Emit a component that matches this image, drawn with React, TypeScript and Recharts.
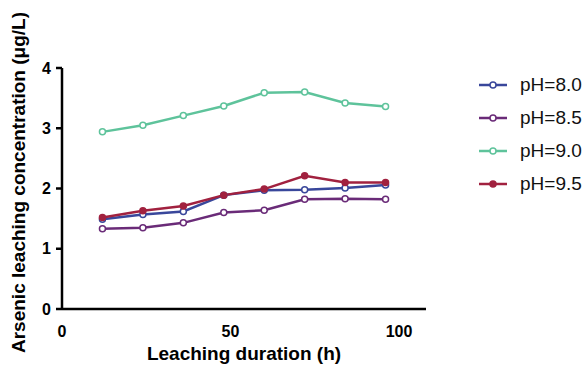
import React from 'react';
import { LineChart, Line, XAxis, YAxis } from 'recharts';

const hours = [12, 24, 36, 48, 60, 72, 84, 96];
const ph80 = [1.49, 1.57, 1.62, 1.89, 1.97, 1.98, 2.01, 2.06];
const ph85 = [1.33, 1.35, 1.43, 1.6, 1.64, 1.82, 1.83, 1.82];
const ph90 = [2.94, 3.05, 3.21, 3.37, 3.59, 3.6, 3.42, 3.36];
const ph95 = [1.52, 1.63, 1.71, 1.89, 1.99, 2.21, 2.1, 2.1];

const xTicks = [0, 50, 100];
const yTicks = [0, 1, 2, 3, 4];

const series = [
  { key: 'ph80', name: 'pH=8.0', color: '#39479b', filled: false },
  { key: 'ph85', name: 'pH=8.5', color: '#6a2b78', filled: false },
  { key: 'ph90', name: 'pH=9.0', color: '#5ec39b', filled: false },
  { key: 'ph95', name: 'pH=9.5', color: '#a1213f', filled: true },
];

const data = hours.map((h, i) => ({
  h,
  ph80: ph80[i],
  ph85: ph85[i],
  ph90: ph90[i],
  ph95: ph95[i],
}));

const font = 'Liberation Sans, Arial, sans-serif';

// legend drawn beside the chart so it doesn't shrink the plot area
const LegendBox = () => (
  <div style={{ position: 'absolute', left: 478, top: 68, fontFamily: font, fontSize: 19, color: '#111' }}>
    {series.map(s => (
      <div key={s.key} style={{ display: 'flex', alignItems: 'center', height: 33 }}>
        <svg width={30} height={12} style={{ marginRight: 12 }}>
          <line x1={1} y1={6} x2={29} y2={6} stroke={s.color} strokeWidth={2.5} />
          <circle cx={15} cy={6} r={3} fill={s.filled ? s.color : '#fff'} stroke={s.color} strokeWidth={1.5} />
        </svg>
        <span>{s.name}</span>
      </div>
    ))}
  </div>
);

export default function App() {
  return (
    <div style={{ position: 'absolute', left: 0, top: 0, width: 587, height: 365 }}>
      <LineChart width={587} height={365} data={data} margin={{ top: 68, right: 161, left: 0, bottom: 0 }}>
        <XAxis
          dataKey="h"
          type="number"
          domain={[0, 108]}
          ticks={xTicks}
          tickLine={false}
          tickSize={15}
          tickMargin={2}
          height={56}
          axisLine={{ stroke: '#000', strokeWidth: 2.5 }}
          tick={{ fill: '#000', fontSize: 16, fontWeight: 'bold', fontFamily: font }}
          label={({ viewBox }: any) => (
            <text
              x={viewBox.x + viewBox.width / 2}
              y={360}
              textAnchor="middle"
              fontSize={19}
              fontWeight="bold"
              fontFamily={font}
              fill="#000"
            >
              Leaching duration (h)
            </text>
          )}
        />
        <YAxis
          type="number"
          domain={[0, 4]}
          ticks={yTicks}
          width={62}
          tickSize={6}
          tickMargin={5}
          axisLine={{ stroke: '#000', strokeWidth: 2.5 }}
          tickLine={{ stroke: '#000', strokeWidth: 2.5 }}
          tick={{ fill: '#000', fontSize: 16, fontWeight: 'bold', fontFamily: font }}
          label={({ viewBox }: any) => (
            <text
              x={0}
              y={0}
              transform={`translate(25, ${viewBox.y + viewBox.height / 2 - 6}) rotate(-90)`}
              textAnchor="middle"
              fontSize={19}
              fontWeight="bold"
              fontFamily={font}
              fill="#000"
            >
              Arsenic leaching concentration (μg/L)
            </text>
          )}
        />
        {series.map(s => (
          <Line
            key={s.key}
            dataKey={s.key}
            name={s.name}
            stroke={s.color}
            strokeWidth={2.5}
            dot={{ r: 3, fill: s.filled ? s.color : '#fff', stroke: s.color, strokeWidth: 1.5 }}
            activeDot={false}
            isAnimationActive={false}
          />
        ))}
      </LineChart>
      <LegendBox />
    </div>
  );
}
